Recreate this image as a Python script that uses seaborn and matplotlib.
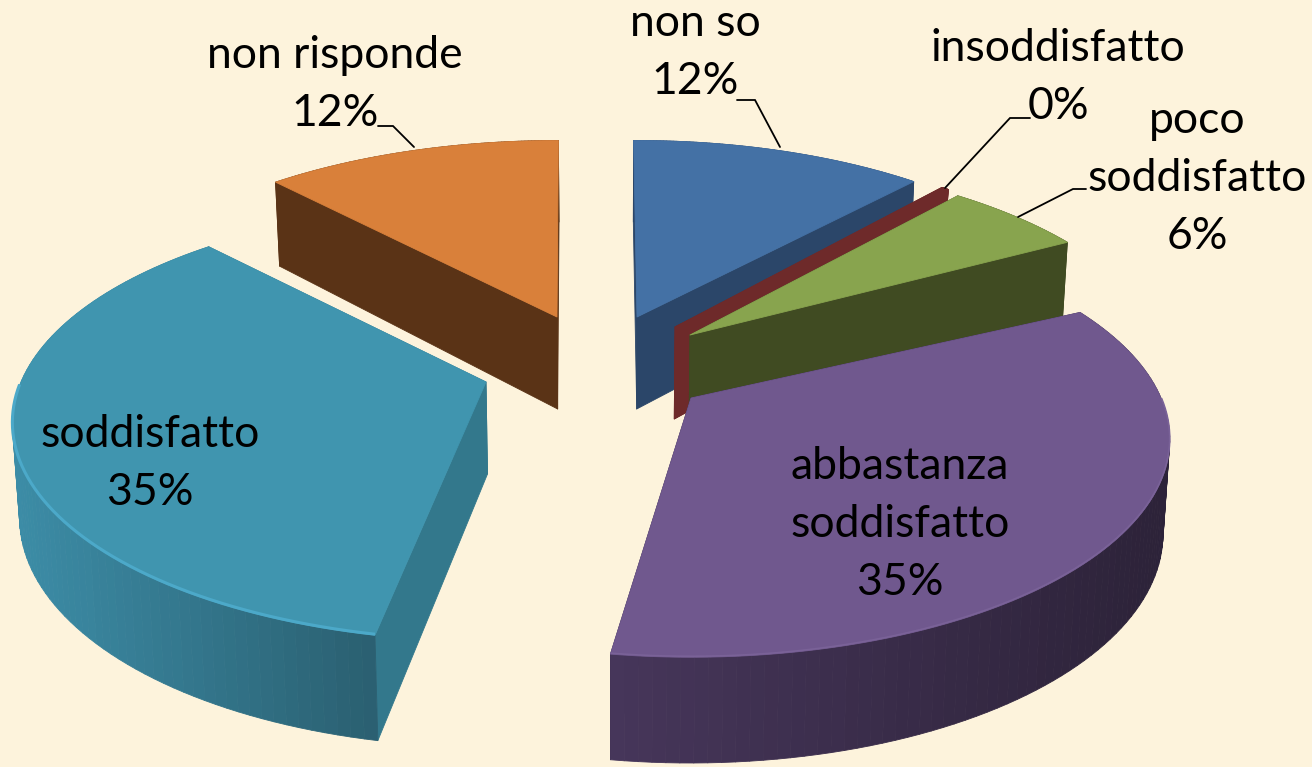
import numpy as np
import matplotlib
matplotlib.use("Agg")
import matplotlib.pyplot as plt
import seaborn as sns

# data
CATEGORIES = ["non so", "insoddisfatto", "poco\nsoddisfatto", "abbastanza\nsoddisfatto", "soddisfatto", "non risponde"]
VALUES = [12.0, 0.3, 5.7, 34.5, 35.0, 12.0]
PERCENT_LABELS = ["12%", "0%", "6%", "35%", "35%", "12%"]

# look of each slice, same order as the data
TOP_COLORS = ["#4471a5", "#6e2a2a", "#88a44e", "#70588e", "#4095af", "#d9803a"]
SIDE_COLORS = ["#2b4669", "#6e2a2a", "#404b22", "#2f2540", "#33788c", "#5a3316"]
WALL_LIGHT = ["#2b4669", "#6e2a2a", "#404b22", "#46365a", "#3c8ca6", "#5a3316"]
WALL_DARK = ["#2b4669", "#6e2a2a", "#404b22", "#2c2238", "#2a5f70", "#5a3316"]
RIM_COLORS = [None, None, None, "#7a6298", "#4ca9c9", None]
RIM_WIDTHS = [0, 0, 0, 1.2, 2.2, 0]
APEX = [(637, 317), (675, 327), (690, 335), (691, 398), (486, 382), (557, 317)]
RADII = [465, 470, 470, 470, 465, 470]
TWIST = [0.5, -1.7, -2.6, 0, 3.2, 3.0]  # the 3D renderer skews each slice a little
LABEL_POS = [(695, 36), (1058, 61), (1197, 133), (900, 479), (150, 447), (335, 68)]  # first baseline
LINE_STEP = 58
DRAW_ORDER = [5, 0, 1, 2, 4, 3]

# leader lines, slice index -> polyline
LEADERS = {
    0: ([737, 755, 780], [100, 100, 147]),
    1: ([1030, 1010, 945], [118, 118, 188]),
    2: ([1086, 1073, 1018], [189, 189, 217]),
    5: ([378, 393, 414], [126, 126, 147]),
}

# pie projection, in pixels
START_ANGLE = -1
SQUASH = 210
PERSPECTIVE = 0.19
DEPTH = 92
DEPTH_PERSPECTIVE = 0.13
VANISH_X = 612
BOTTOM_SCALE = 0.988
BACKGROUND = "#fdf3dc"

sns.set_theme(style="white")
plt.rcParams["font.family"] = ["Lato", "DejaVu Sans"]


def top_points(angles, apex, radius):
    rad = np.radians(angles)
    x, y = np.sin(rad), -np.cos(rad)
    d = 1 - PERSPECTIVE * y
    return apex[0] + radius * x / d, apex[1] + SQUASH * y / d, y


def bottom_points(px, py, y):
    return VANISH_X + (px - VANISH_X) * BOTTOM_SCALE, py + DEPTH / (1 - DEPTH_PERSPECTIVE * y)


def fill(ax, xs, ys, color):
    ax.fill(xs, ys, color=color, lw=0.6, joinstyle="round")


def draw_slice(ax, i, a0, a1):
    apex = APEX[i]
    angles = np.linspace(a0, a1, 90)
    px, py, y = top_points(angles, apex, RADII[i])
    bx, by = bottom_points(px, py, y)
    apex_bx, apex_by = bottom_points(np.array([apex[0]]), np.array([apex[1]]), np.array([0.0]))

    # radial faces
    for k in (0, -1):
        fill(ax, [apex[0], px[k], bx[k], apex_bx[0]], [apex[1], py[k], by[k], apex_by[0]], SIDE_COLORS[i])

    # outer wall, shaded in strips from left to right
    ramp = sns.blend_palette([WALL_LIGHT[i], WALL_DARK[i]], 64)
    span = max(px.max() - px.min(), 1)
    for k in range(len(angles) - 1):
        shade = ramp[int(63 * (0.5 * (px[k] + px[k + 1]) - px.min()) / span)]
        fill(ax, [px[k], px[k + 1], bx[k + 1], bx[k]], [py[k], py[k + 1], by[k + 1], by[k]], shade)

    # top
    fill(ax, np.r_[apex[0], px], np.r_[apex[1], py], TOP_COLORS[i])
    if RIM_COLORS[i]:
        front = y > 0.0
        ax.plot(px[front], py[front] - 1, color=RIM_COLORS[i], lw=RIM_WIDTHS[i], solid_capstyle="butt")


fig = plt.figure(figsize=(13.12, 7.67), dpi=100, facecolor=BACKGROUND)
ax = fig.add_axes([0, 0, 1, 1])
ax.set_xlim(0, 1312)
ax.set_ylim(767, 0)
ax.axis("off")

edges = START_ANGLE + np.r_[0, np.cumsum(VALUES)] / 100 * 360
for i in DRAW_ORDER:
    draw_slice(ax, i, edges[i] + TWIST[i], edges[i + 1] + TWIST[i])

for i, (xs, ys) in LEADERS.items():
    ax.plot(xs, ys, color="black", lw=1.3, solid_joinstyle="miter")

# one text per line, so the wide names do not collide with their neighbours' boxes
for name, pct, (x, y) in zip(CATEGORIES, PERCENT_LABELS, LABEL_POS):
    for n, line in enumerate(name.split("\n") + [pct]):
        ax.text(x, y + n * LINE_STEP, line, ha="center", va="baseline", fontsize=32, color="black")

fig.savefig("out.png", dpi=100, facecolor=BACKGROUND)
